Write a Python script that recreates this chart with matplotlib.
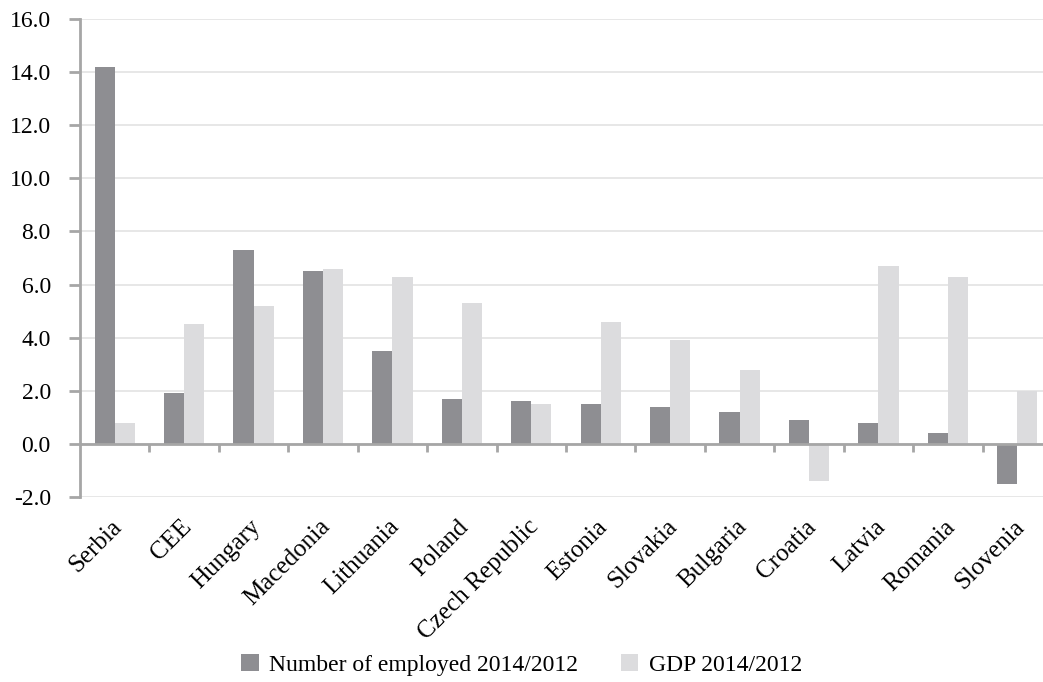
import numpy as np
import matplotlib
matplotlib.use("Agg")
import matplotlib.pyplot as plt

plt.rcParams['font.family'] = ['Liberation Serif', 'DejaVu Serif']
plt.rcParams['axes.unicode_minus'] = False

countries = ["Serbia", "CEE", "Hungary", "Macedonia", "Lithuania", "Poland",
             "Czech Republic", "Estonia", "Slovakia", "Bulgaria", "Croatia",
             "Latvia", "Romania", "Slovenia"]
employed = [14.2, 1.9, 7.3, 6.5, 3.5, 1.7, 1.6, 1.5, 1.4, 1.2, 0.9, 0.8, 0.4, -1.5]
gdp = [0.8, 4.5, 5.2, 6.6, 6.3, 5.3, 1.5, 4.6, 3.9, 2.8, -1.4, 6.7, 6.3, 2.0]
yticks = [-2, 0, 2, 4, 6, 8, 10, 12, 14, 16]

dark = "#8e8e92"
light = "#dcdcde"
axis_grey = "#a6a6a6"
fs = 17

fig = plt.figure(figsize=(10.43, 6.82), dpi=100)
ax = fig.add_axes([0.0767, 0.2713, 0.932, 0.7009])

x = np.arange(len(countries))
w = 0.29
ax.bar(x - w / 2, employed, w, color=dark, label="Number of employed 2014/2012", zorder=3)
ax.bar(x + w / 2, gdp, w, color=light, label="GDP 2014/2012", zorder=3)

ax.set_xlim(-0.5, len(countries) - 0.5)
ax.set_ylim(-2, 16)
ax.set_yticks(yticks)
ax.set_yticklabels([f"{v:.1f}" for v in yticks], fontsize=fs)
ax.grid(axis="y", color="#e3e3e3", linewidth=1.2, zorder=0)

for side in ["top", "right"]:
    ax.spines[side].set_visible(False)
ax.spines["left"].set_color(axis_grey)
ax.spines["left"].set_linewidth(2)
ax.spines["bottom"].set_position(("data", 0))
ax.spines["bottom"].set_color(axis_grey)
ax.spines["bottom"].set_linewidth(2)
ax.spines["bottom"].set_zorder(4)

ax.tick_params(axis="y", length=8, width=2, color=axis_grey, pad=13)
# tick marks at category boundaries on the zero line, labels placed below
ax.set_xticks(np.arange(0.5, len(countries) - 0.5, 1.0))
ax.set_xticklabels([])
ax.tick_params(axis="x", length=6, width=2, color=axis_grey)

for i, name in enumerate(countries):
    ax.text(i + 0.05, -3.0, name, rotation=45, rotation_mode="anchor",
            ha="right", va="center", fontsize=18, clip_on=False)

fig.legend(loc="center", bbox_to_anchor=(0.5, 0.025), ncol=2, frameon=False,
           fontsize=fs, handlelength=0.75, handleheight=0.75, handletextpad=0.45,
           columnspacing=1.8)

fig.savefig("out.png", dpi=100)
